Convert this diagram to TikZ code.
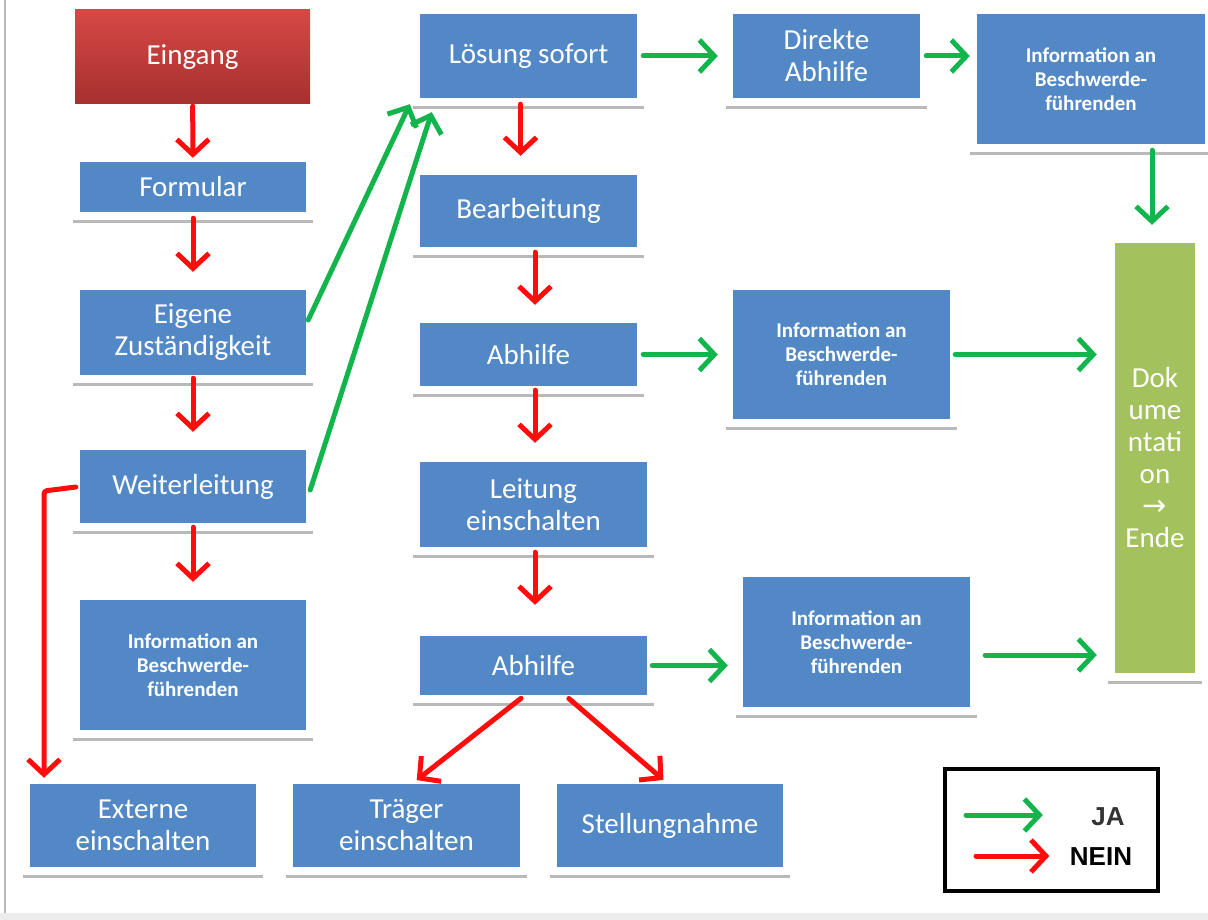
\documentclass[tikz,border=0pt]{standalone}
\usepackage{fontspec}
\setmainfont{Carlito}
\newfontfamily\legendfont{Liberation Sans}
\newfontfamily\pfeilfont{DejaVu Sans}
\usetikzlibrary{arrows.meta, positioning, calc}

\definecolor{blaubox}{RGB}{83,136,199}
\definecolor{gruenbox}{RGB}{163,194,94}
\definecolor{jagruen}{RGB}{17,181,76}
\definecolor{neinrot}{RGB}{255,12,12}
\definecolor{rotoben}{RGB}{214,72,70}
\definecolor{rotunten}{RGB}{166,48,46}

\begin{document}
\begin{tikzpicture}[x=1pt, y=-1pt,
          box/.style={fill=blaubox, text=white, inner sep=0pt, align=center, font=\fontsize{29}{32}\selectfont},
          infobox/.style={box, font=\bfseries\fontsize{21}{24}\selectfont},
          schatten/.style={draw=gray!55, line width=3pt},
          ja/.style={-{Straight Barb[length=15pt, width=32pt]}, line width=5pt, draw=jagruen, line cap=round},
          nein/.style={-{Straight Barb[length=15pt, width=32pt]}, line width=5pt, draw=neinrot, line cap=round}
        ]
          \useasboundingbox (0,0) rectangle (1208,920);
          % Rahmen
          \fill[gray!15] (0,913) rectangle (1208,920);
          \draw[gray!55, line width=2.5pt] (5,0) -- (5,913);

          % linke Spalte
          \node[box, top color=rotoben, bottom color=rotunten, minimum width=235pt, minimum height=94pt] (eingang) at (192.5,57) {Eingang};
          \node[box, minimum width=226pt, minimum height=50pt] (formular) at (193,187) {Formular};
          \node[box, minimum width=226pt, minimum height=85pt] (eigene) at (193,332.5) {Eigene\\Zuständigkeit};
          \node[box, minimum width=226pt, minimum height=73pt] (weiter) at (193,486.5) {Weiterleitung};
          \node[infobox, minimum width=226pt, minimum height=130pt] (infolinks) at (193,665) {Information an\\Beschwerde-\\führenden};
          \node[box, minimum width=226pt, minimum height=83pt] (extern) at (143,825.5) {Externe\\einschalten};
          \node[box, minimum width=227pt, minimum height=83pt] (traeger) at (406.5,825.5) {Träger\\einschalten};
          \node[box, minimum width=226pt, minimum height=83pt] (stellung) at (670,825.5) {Stellungnahme};

          % mittlere Spalte
          \node[box, minimum width=217pt, minimum height=84pt] (loesung) at (528.5,56) {Lösung sofort};
          \node[box, minimum width=217pt, minimum height=72pt] (bearb) at (528.5,211) {Bearbeitung};
          \node[box, minimum width=217pt, minimum height=63pt] (abhilfeA) at (528.5,354.5) {Abhilfe};
          \node[box, minimum width=227pt, minimum height=85pt] (leitung) at (533.5,504.5) {Leitung\\einschalten};
          \node[box, minimum width=227pt, minimum height=59pt] (abhilfeB) at (533.5,665.5) {Abhilfe};

          % rechte Seite
          \node[box, minimum width=187pt, minimum height=84pt] (direkt) at (826.5,56) {Direkte\\Abhilfe};
          \node[infobox, minimum width=228pt, minimum height=130pt] (infooben) at (1091,79) {Information an\\Beschwerde-\\führenden};
          \node[infobox, minimum width=217pt, minimum height=129pt] (infomitte) at (841.5,354.5) {Information an\\Beschwerde-\\führenden};
          \node[infobox, minimum width=227pt, minimum height=130pt] (infounten) at (856.5,642) {Information an\\Beschwerde-\\führenden};
          \node[box, fill=gruenbox, minimum width=80pt, minimum height=430pt] (doku) at (1155,458) {Dok\\ume\\ntati\\on\\{\pfeilfont →}\\Ende};

          % Schattenlinien
          \foreach \n in {formular, eigene, weiter, infolinks, extern, traeger, stellung, loesung, bearb, abhilfeA, leitung, abhilfeB, direkt, infooben, infomitte, infounten, doku}
            \draw[schatten] ([xshift=-7pt, yshift=-9pt]\n.south west) -- ([xshift=7pt, yshift=-9pt]\n.south east);

          % NEIN
          \draw[nein, shorten <=2pt, shorten >=4pt] (eingang) -- (formular);
          \draw[nein, shorten <=6pt, shorten >=18pt] (formular) -- (eigene);
          \draw[nein, shorten <=3pt, shorten >=18pt] (eigene) -- (weiter);
          \draw[nein, shorten <=4pt, shorten >=18pt] (weiter) -- (infolinks);
          \coordinate (knick) at (44,491);
          \draw[nein, rounded corners=3pt, shorten <=4pt, shorten >=6pt] (weiter.west) -- (knick) -- (knick |- extern.north);
          \draw[nein, shorten <=6pt, shorten >=19pt] ([xshift=-8pt]loesung.south) -- ([xshift=-8pt]bearb.north);
          \draw[nein, shorten <=5pt, shorten >=18pt] ([xshift=6.5pt]bearb.south) -- ([xshift=6.5pt]abhilfeA.north);
          \draw[nein, shorten <=4pt, shorten >=19pt] ([xshift=6.5pt]abhilfeA.south) -- ([xshift=6.5pt]abhilfeA.south |- leitung.north);
          \draw[nein, shorten <=5pt, shorten >=31pt] ([xshift=1.5pt]leitung.south) -- ([xshift=1.5pt]abhilfeB.north);
          \draw[nein, shorten <=5pt, shorten >=6pt] ([xshift=-8.5pt]abhilfeB.south) -- ([xshift=5.5pt]traeger.north);
          \draw[nein, shorten <=5pt, shorten >=6pt] ([xshift=31.5pt]abhilfeB.south) -- ([xshift=-2pt]stellung.north);

          % JA
          \draw[ja] ([xshift=2pt, yshift=12.5pt]eigene.east) -- ([xshift=-10pt, yshift=-6pt]loesung.south west);
          \draw[ja] ([xshift=4pt, yshift=-3.5pt]weiter.east) -- ([xshift=12pt, yshift=-14pt]loesung.south west);
          \draw[ja, shorten <=6pt, shorten >=15pt] (loesung) -- (direkt);
          \draw[ja, shorten <=6pt, shorten >=7pt] (direkt.east) -- (direkt.east -| infooben.west);
          \draw[ja, shorten <=6pt, shorten >=18pt] ([xshift=-3pt]infooben.south -| doku.north) -- ([xshift=-3pt]doku.north);
          \draw[ja, shorten <=6pt, shorten >=15pt] (abhilfeA) -- (infomitte);
          \draw[ja, shorten <=5pt, shorten >=18pt] (infomitte.east) -- (infomitte.east -| doku.west);
          \draw[ja, shorten <=5pt, shorten >=15pt] (abhilfeB.east) -- (abhilfeB.east -| infounten.west);
          \draw[ja, shorten <=15pt, shorten >=18pt] ([yshift=-13pt]infounten.east) -- ([yshift=-13pt]infounten.east -| doku.west);

          % Legende
          \node[draw=black, line width=4pt, minimum width=213pt, minimum height=122pt] (legende) at (1051.5,830) {};
          \node[font=\legendfont\bfseries\fontsize{26}{30}\selectfont, text=black!80] (jatext) at (1108,817) {JA};
          \node[font=\legendfont\bfseries\fontsize{26}{30}\selectfont] (neintext) at (1101,857) {NEIN};
          \coordinate (jastart) at (966,815);
          \coordinate (neinstart) at (976,856);
          \draw[ja, shorten >=45pt] (jastart) -- (jastart -| jatext.west);
          \draw[nein, shorten >=17pt] (neinstart) -- (neinstart -| neintext.west);
        \end{tikzpicture}
\end{document}
